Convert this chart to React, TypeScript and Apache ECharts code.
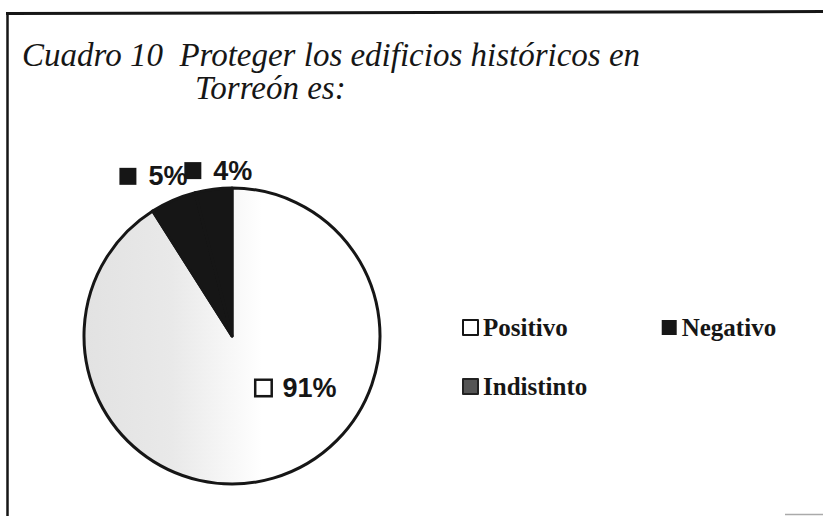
import React, { useEffect, useRef } from 'react';
import * as echarts from 'echarts';

const categories = ['Positivo', 'Negativo', 'Indistinto'];
const values = [91, 5, 4];
const titleLine1 = 'Cuadro 10  Proteger los edificios históricos en';
const titleLine2 = 'Torreón es:';

export default function App() {
  const ref = useRef<HTMLDivElement>(null);

  useEffect(() => {
    const chart = echarts.init(ref.current as HTMLDivElement, null, { renderer: 'svg' });
    const ink = '#161616';
    const titleStyle = {
      fontFamily: "'Liberation Serif', 'Times New Roman', Times, serif",
      fontStyle: 'italic',
      fontWeight: 'normal',
      fontSize: 33,
      lineHeight: 32,
      color: ink,
    };
    const legendText = {
      fontFamily: "'Liberation Serif', 'Times New Roman', serif",
      fontWeight: 'bold',
      fontSize: 25,
      color: ink,
    };
    const sliceStyles = [
      {
        color: {
          type: 'linear',
          x: 0,
          y: 0,
          x2: 1,
          y2: 0,
          colorStops: [
            { offset: 0, color: '#e2e2e2' },
            { offset: 0.3, color: '#e9e9e9' },
            { offset: 0.45, color: '#f4f4f4' },
            { offset: 0.6, color: '#ffffff' },
            { offset: 1, color: '#ffffff' },
          ],
        },
      },
      { color: ink },
      { color: ink },
    ];
    const labelShift = [
      [43, -22],
      [-48, -89],
      [-4, -89],
    ];

    const option = {
      animation: false,
      backgroundColor: '#ffffff',
      title: [
        { text: titleLine1, left: 17, top: 34, textStyle: titleStyle },
        { text: titleLine2, left: 190, top: 67, textStyle: titleStyle },
      ],
      legend: [
        {
          data: [
            { name: categories[0], itemStyle: { color: '#ffffff', borderColor: ink, borderWidth: 2 } },
            { name: categories[1], itemStyle: { color: ink, borderWidth: 0 } },
          ],
          left: 457,
          top: 310,
          icon: 'rect',
          itemWidth: 15,
          itemHeight: 15,
          itemTextGap: 6,
          itemGap: 94,
          selectedMode: false,
          textStyle: legendText,
        },
        {
          data: [
            { name: categories[2], itemStyle: { color: '#555555', borderColor: '#222222', borderWidth: 2 } },
          ],
          left: 457,
          top: 369,
          icon: 'rect',
          itemWidth: 15,
          itemHeight: 15,
          itemTextGap: 6,
          selectedMode: false,
          textStyle: legendText,
        },
      ],
      graphic: [
        { type: 'line', shape: { x1: 7.5, y1: 13, x2: 7.5, y2: 516 }, style: { stroke: ink, lineWidth: 2.5 } },
        { type: 'line', shape: { x1: 6, y1: 13.5, x2: 823, y2: 11.5 }, style: { stroke: ink, lineWidth: 3 } },
        { type: 'line', shape: { x1: 785, y1: 514.5, x2: 823, y2: 514.5 }, style: { stroke: '#aaaaaa', lineWidth: 1.5 } },
      ],
      series: [
        {
          type: 'pie',
          center: [232, 336],
          radius: 148,
          startAngle: 90,
          clockwise: true,
          avoidLabelOverlap: false,
          emphasis: { disabled: true },
          itemStyle: { borderColor: ink, borderWidth: 3 },
          labelLine: { show: false },
          label: {
            show: true,
            position: 'inside',
            color: ink,
            formatter: (p: any) =>
              `{${p.dataIndex === 0 ? 'open' : 'fill'}| }{gap| }{t|${p.value}%}`,
            rich: {
              open: { width: 14, height: 14, backgroundColor: '#ffffff', borderColor: ink, borderWidth: 2.5 },
              fill: { width: 17, height: 17, backgroundColor: ink },
              gap: { width: 12 },
              t: { fontFamily: "'Liberation Sans', Arial, sans-serif", fontWeight: 'bold', fontSize: 27, color: ink, lineHeight: 30 },
            },
          },
          labelLayout: (p: any) => ({
            dx: labelShift[p.dataIndex][0],
            dy: labelShift[p.dataIndex][1],
          }),
          data: categories.map((name, i) => ({
            name,
            value: values[i],
            itemStyle: sliceStyles[i],
          })),
        },
      ],
    };

    chart.setOption(option as any);
    return () => chart.dispose();
  }, []);

  return (
    <div
      ref={ref}
      style={{ position: 'absolute', left: 0, top: 0, width: 823, height: 516, background: '#fff' }}
    />
  );
}
